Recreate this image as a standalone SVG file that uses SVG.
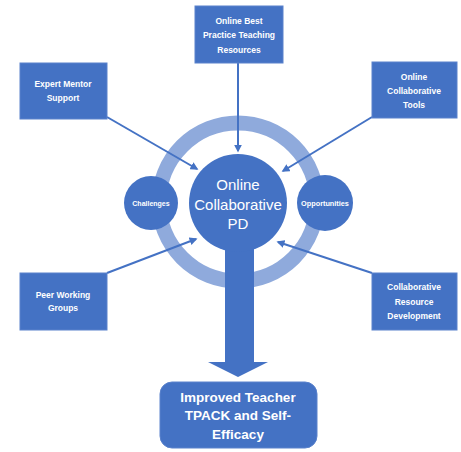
<svg xmlns="http://www.w3.org/2000/svg" width="461" height="452" viewBox="0 0 461 452">
<defs>
<style>
.box{fill:#4472c4;stroke:#5a82cc;stroke-width:1}
.t{font-family:"Liberation Sans",Arial,sans-serif;font-weight:bold;fill:#fff;text-anchor:middle}
.bt{font-size:8.5px}
.conn{stroke:#4472c4;stroke-width:2;fill:none;marker-end:url(#ah)}
</style>
<marker id="ah" viewBox="0 0 10 10" refX="8" refY="5" markerWidth="4" markerHeight="4" orient="auto" markerUnits="strokeWidth">
<path d="M0,0 L10,5 L0,10 z" fill="#4472c4"/>
</marker>
</defs>
<rect width="461" height="452" fill="#fff"/>
<g id="ring">
<circle cx="238" cy="202" r="79" fill="none" stroke="#8faadc" stroke-width="15"/>
</g>
<g id="connectors">
<line class="conn" x1="238" y1="63" x2="238" y2="151"/>
<line class="conn" x1="107" y1="117" x2="197" y2="169"/>
<line class="conn" x1="372" y1="117" x2="283" y2="171"/>
<line class="conn" x1="107" y1="273" x2="196" y2="239"/>
<line class="conn" x1="372" y1="273" x2="278" y2="242"/>
<polygon id="big-arrow" points="225,240 254,240 254,362 268,362 238,377 208,362 225,362" fill="#4472c4"/>
</g>
<g id="center">
<circle cx="238" cy="203" r="49" fill="#4472c4"/>
<text class="t" style="font-weight:normal;font-size:15px" x="238" y="190">Online</text>
<text class="t" style="font-weight:normal;font-size:15px" x="238" y="210">Collaborative</text>
<text class="t" style="font-weight:normal;font-size:15px" x="238" y="229">PD</text>
</g>
<g id="challenges">
<circle cx="151" cy="203" r="27" fill="#4472c4"/>
<text class="t" style="font-size:7px" x="151" y="206">Challenges</text>
</g>
<g id="opportunities">
<circle cx="325" cy="203" r="28" fill="#4472c4"/>
<text class="t" style="font-size:7.3px" x="325" y="206">Opportunities</text>
</g>
<g id="best-practice">
<rect class="box" x="195" y="6" width="88" height="57"/>
<text class="t bt" x="239" y="24">Online Best</text>
<text class="t bt" x="239" y="38">Practice Teaching</text>
<text class="t bt" x="239" y="53">Resources</text>
</g>
<g id="expert-mentor">
<rect class="box" x="20" y="63" width="87" height="56"/>
<text class="t bt" x="63" y="87">Expert Mentor</text>
<text class="t bt" x="63" y="101">Support</text>
</g>
<g id="collab-tools">
<rect class="box" x="372" y="62" width="85" height="56"/>
<text class="t bt" x="414" y="80">Online</text>
<text class="t bt" x="414" y="94">Collaborative</text>
<text class="t bt" x="414" y="108">Tools</text>
</g>
<g id="peer-groups">
<rect class="box" x="20" y="273" width="87" height="57"/>
<text class="t bt" x="63" y="298">Peer Working</text>
<text class="t bt" x="63" y="311">Groups</text>
</g>
<g id="collab-resource">
<rect class="box" x="372" y="273" width="85" height="57"/>
<text class="t bt" x="414" y="290">Collaborative</text>
<text class="t bt" x="414" y="305">Resource</text>
<text class="t bt" x="414" y="319">Development</text>
</g>
<g id="outcome">
<rect class="box" x="160" y="382" width="157" height="66" rx="12"/>
<text class="t" style="font-size:13.5px" x="238" y="402">Improved Teacher</text>
<text class="t" style="font-size:13.5px" x="238" y="420">TPACK and Self-</text>
<text class="t" style="font-size:13.5px" x="238" y="439">Efficacy</text>
</g>
</svg>
